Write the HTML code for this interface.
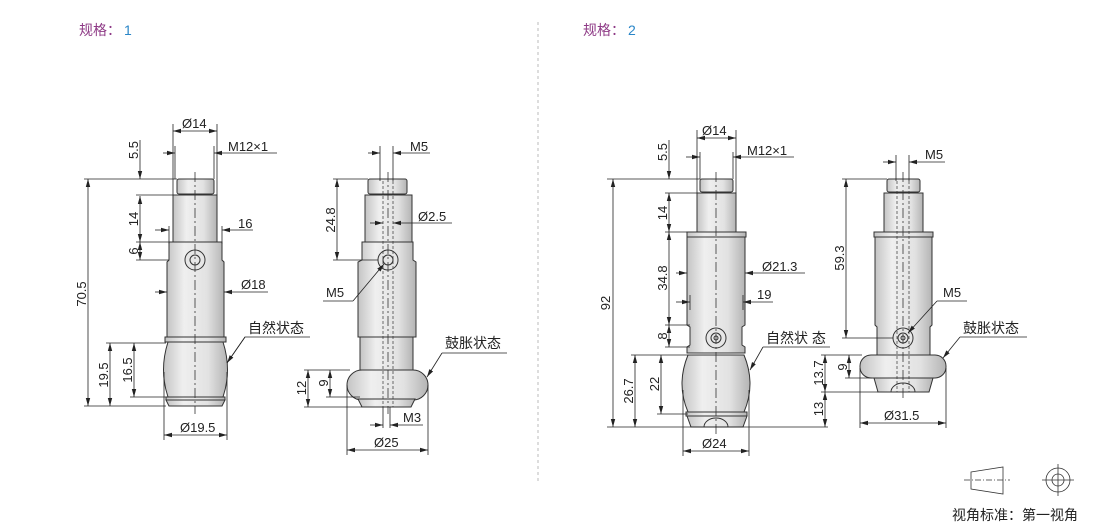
<!DOCTYPE html>
<html><head><meta charset="utf-8"><style>
html,body{margin:0;padding:0;background:#fff;width:1110px;height:525px;overflow:hidden}
svg{display:block}
text{font-family:"Liberation Sans","Noto Sans CJK SC",sans-serif;fill:#222}
</style></head><body>
<svg width="1110" height="525" viewBox="0 0 1110 525" xmlns="http://www.w3.org/2000/svg">
<defs>
<marker id="a" markerWidth="8" markerHeight="6" refX="8" refY="3" orient="auto-start-reverse" markerUnits="userSpaceOnUse"><path d="M0,0.8 L8,3 L0,5.2z" fill="#222"/></marker>
<linearGradient id="g" x1="0" x2="1" y1="0" y2="0"><stop offset="0" stop-color="#c4c4c4"/><stop offset="0.3" stop-color="#efefef"/><stop offset="0.7" stop-color="#e2e2e2"/><stop offset="1" stop-color="#b4b4b4"/></linearGradient>
</defs>
<g font-size="14">
<text x="79" y="35" fill="#8e3a86" style="fill:#8e3a86">规格：</text><text x="124" y="35" style="fill:#2a86c8">1</text>
<text x="583" y="35" style="fill:#8e3a86">规格：</text><text x="628" y="35" style="fill:#2a86c8">2</text>
</g>
<line x1="538" y1="22" x2="538" y2="482" stroke="#bbb" stroke-dasharray="3,3"/>

<!-- ===== Drawing 1 left ===== -->
<g stroke="#333" stroke-width="1" fill="url(#g)">
<rect x="177" y="179" width="37" height="15" rx="2"/>
<rect x="173" y="195" width="44" height="47"/>
<path d="M169,242 H222 V260 L224,262 V337 H167 V262 L169,260Z"/>
<rect x="165" y="337" width="61" height="5"/>
<path d="M168,342 H223 Q232,370 223,397 H168 Q159,370 168,342Z"/>
<rect x="166" y="397" width="59" height="3"/>
<path d="M166,400 H225 L222,406 H169Z"/>
<circle cx="195" cy="260" r="10" fill="#e6e6e6"/>
<circle cx="195" cy="260" r="5" fill="#e6e6e6"/>
</g>
<line x1="195" y1="172" x2="195" y2="414" stroke="#333" stroke-width="0.8" stroke-dasharray="10,3,2,3"/>
<!-- drawing 1 right -->
<g stroke="#333" stroke-width="1" fill="url(#g)">
<rect x="368" y="179" width="39" height="15" rx="2"/>
<rect x="365" y="195" width="47" height="47"/>
<path d="M362,242 H413 V260 L416,262 V337 H358 V262 L362,260Z"/>
<rect x="360" y="337" width="53" height="33"/>
<rect x="347" y="370" width="81" height="30" rx="15"/>
<path d="M358,399 H415 L411,407 H362Z"/>
<circle cx="388" cy="260" r="10" fill="#e6e6e6"/>
<circle cx="388" cy="260" r="5" fill="#e6e6e6"/>
</g>
<g stroke="#333" stroke-width="0.7" stroke-dasharray="3,2" fill="none">
<line x1="383" y1="181" x2="383" y2="407"/><line x1="393" y1="181" x2="393" y2="407"/>
</g>
<line x1="388" y1="172" x2="388" y2="414" stroke="#333" stroke-width="0.8" stroke-dasharray="10,3,2,3"/>

<!-- ===== Drawing 2 left ===== -->
<g stroke="#333" stroke-width="1" fill="url(#g)">
<rect x="700" y="179" width="33" height="13" rx="2"/>
<rect x="697" y="193" width="39" height="39"/>
<rect x="687" y="232" width="59" height="5"/>
<path d="M687,237 H745 V325 L742,327 V345 L745,347 V353 H687 V347 L690,345 V327 L687,325Z"/>
<path d="M688,355 H744 Q756,384 744,412 H688 Q676,384 688,355Z"/>
<rect x="686" y="412" width="61" height="4"/>
<path d="M687,416 H747 L743,427 H691Z"/>
<path d="M704,427 A12,9 0 0 1 728,427" fill="none"/>
<circle cx="716" cy="338" r="10" fill="#e6e6e6"/>
<circle cx="716" cy="338" r="5" fill="#e6e6e6"/>
<circle cx="716" cy="338" r="2" fill="#e6e6e6"/>
</g>
<line x1="716" y1="172" x2="716" y2="434" stroke="#333" stroke-width="0.8" stroke-dasharray="10,3,2,3"/>
<!-- drawing 2 right -->
<g stroke="#333" stroke-width="1" fill="url(#g)">
<rect x="887" y="179" width="33" height="13" rx="2"/>
<rect x="884" y="193" width="39" height="39"/>
<rect x="874" y="232" width="59" height="5"/>
<path d="M875,237 H932 V325 L930,327 V355 H877 V327 L875,325Z"/>
<rect x="860" y="355" width="86" height="23" rx="11"/>
<path d="M874,378 H933 L929,392 H878Z"/>
<path d="M891,392 A12,9 0 0 1 915,392" fill="none"/>
<circle cx="903" cy="338" r="10" fill="#e6e6e6"/>
<circle cx="903" cy="338" r="5" fill="#e6e6e6"/>
<circle cx="903" cy="338" r="2" fill="#e6e6e6"/>
</g>
<g stroke="#333" stroke-width="0.7" stroke-dasharray="3,2" fill="none">
<line x1="897" y1="181" x2="897" y2="392"/><line x1="909" y1="181" x2="909" y2="392"/>
</g>
<line x1="903" y1="172" x2="903" y2="398" stroke="#333" stroke-width="0.8" stroke-dasharray="10,3,2,3"/>

<!-- ===== dimensions ===== -->
<g stroke="#222" stroke-width="0.8" fill="none">
<!-- D1 left -->
<line x1="173" y1="124" x2="173" y2="195"/><line x1="217" y1="124" x2="217" y2="195"/>
<line x1="173" y1="131" x2="217" y2="131" marker-start="url(#a)" marker-end="url(#a)"/>
<line x1="175" y1="146" x2="175" y2="179"/><line x1="214" y1="146" x2="214" y2="179"/>
<line x1="163" y1="153" x2="175" y2="153" marker-end="url(#a)"/><line x1="277" y1="153" x2="214" y2="153" marker-end="url(#a)"/>
<line x1="84" y1="179" x2="177" y2="179"/><line x1="136" y1="195" x2="173" y2="195"/>
<line x1="136" y1="242" x2="169" y2="242"/><line x1="136" y1="260" x2="169" y2="260"/>
<line x1="140" y1="140" x2="140" y2="179" marker-end="url(#a)"/>
<line x1="140" y1="196" x2="140" y2="242" marker-start="url(#a)" marker-end="url(#a)"/>
<line x1="140" y1="242" x2="140" y2="260" marker-start="url(#a)" marker-end="url(#a)"/>
<line x1="88" y1="179" x2="88" y2="406" marker-start="url(#a)" marker-end="url(#a)"/>
<line x1="84" y1="406" x2="166" y2="406"/>
<line x1="169" y1="226" x2="169" y2="244"/><line x1="222" y1="226" x2="222" y2="244"/>
<line x1="155" y1="230" x2="169" y2="230" marker-end="url(#a)"/><line x1="253" y1="230" x2="222" y2="230" marker-end="url(#a)"/>
<line x1="155" y1="292" x2="167" y2="292" marker-end="url(#a)"/><line x1="268" y1="292" x2="224" y2="292" marker-end="url(#a)"/>
<line x1="106" y1="343" x2="166" y2="343"/><line x1="130" y1="397" x2="166" y2="397"/>
<line x1="110" y1="343" x2="110" y2="406" marker-start="url(#a)" marker-end="url(#a)"/>
<line x1="134" y1="343" x2="134" y2="397" marker-start="url(#a)" marker-end="url(#a)"/>
<line x1="164" y1="372" x2="164" y2="440"/><line x1="227" y1="372" x2="227" y2="440"/>
<line x1="164" y1="435" x2="227" y2="435" marker-start="url(#a)" marker-end="url(#a)"/>
<polyline points="310,337 245,337 227,363"/><line x1="245" y1="337" x2="227" y2="363" marker-end="url(#a)"/>
<!-- D1 right -->
<line x1="380" y1="146" x2="380" y2="181"/><line x1="393" y1="146" x2="393" y2="181"/>
<line x1="368" y1="153" x2="380" y2="153" marker-end="url(#a)"/><line x1="430" y1="153" x2="393" y2="153" marker-end="url(#a)"/>
<line x1="333" y1="179" x2="368" y2="179"/><line x1="333" y1="260" x2="378" y2="260"/>
<line x1="337" y1="179" x2="337" y2="260" marker-start="url(#a)" marker-end="url(#a)"/>
<line x1="370" y1="223" x2="383" y2="223" marker-end="url(#a)"/><line x1="452" y1="223" x2="393" y2="223" marker-end="url(#a)"/>
<polyline points="323,301 353,301"/><line x1="353" y1="301" x2="384" y2="264" marker-end="url(#a)"/>
<line x1="442" y1="353" x2="507" y2="353"/><line x1="442" y1="353" x2="427" y2="377" marker-end="url(#a)"/>
<line x1="304" y1="370" x2="350" y2="370"/><line x1="326" y1="397" x2="360" y2="397"/><line x1="304" y1="407" x2="362" y2="407"/>
<line x1="308" y1="370" x2="308" y2="407" marker-start="url(#a)" marker-end="url(#a)"/>
<line x1="330" y1="370" x2="330" y2="397" marker-start="url(#a)" marker-end="url(#a)"/>
<line x1="383" y1="407" x2="383" y2="428"/><line x1="390" y1="407" x2="390" y2="428"/>
<line x1="370" y1="425" x2="383" y2="425" marker-end="url(#a)"/><line x1="423" y1="425" x2="390" y2="425" marker-end="url(#a)"/>
<line x1="347" y1="385" x2="347" y2="455"/><line x1="428" y1="385" x2="428" y2="455"/>
<line x1="347" y1="450" x2="428" y2="450" marker-start="url(#a)" marker-end="url(#a)"/>

<!-- D2 left -->
<line x1="697" y1="130" x2="697" y2="193"/><line x1="736" y1="130" x2="736" y2="193"/>
<line x1="697" y1="138" x2="736" y2="138" marker-start="url(#a)" marker-end="url(#a)"/>
<line x1="700" y1="152" x2="700" y2="179"/><line x1="733" y1="152" x2="733" y2="179"/>
<line x1="686" y1="157" x2="700" y2="157" marker-end="url(#a)"/><line x1="794" y1="157" x2="733" y2="157" marker-end="url(#a)"/>
<line x1="607" y1="179" x2="700" y2="179"/><line x1="665" y1="193" x2="697" y2="193"/>
<line x1="665" y1="232" x2="687" y2="232"/><line x1="665" y1="325" x2="690" y2="325"/><line x1="665" y1="347" x2="690" y2="347"/>
<line x1="669" y1="140" x2="669" y2="179" marker-end="url(#a)"/>
<line x1="669" y1="193" x2="669" y2="232" marker-start="url(#a)" marker-end="url(#a)"/>
<line x1="669" y1="232" x2="669" y2="325" marker-start="url(#a)" marker-end="url(#a)"/>
<line x1="669" y1="325" x2="669" y2="347" marker-start="url(#a)" marker-end="url(#a)"/>
<line x1="613" y1="179" x2="613" y2="427" marker-start="url(#a)" marker-end="url(#a)"/>
<line x1="607" y1="427" x2="828" y2="427"/>
<line x1="676" y1="273" x2="687" y2="273" marker-end="url(#a)"/><line x1="805" y1="273" x2="745" y2="273" marker-end="url(#a)"/>
<line x1="690" y1="295" x2="690" y2="310"/><line x1="743" y1="295" x2="743" y2="310"/>
<line x1="676" y1="302" x2="690" y2="302" marker-end="url(#a)"/><line x1="773" y1="302" x2="743" y2="302" marker-end="url(#a)"/>
<line x1="631" y1="355" x2="688" y2="355"/><line x1="657" y1="414" x2="688" y2="414"/>
<line x1="635" y1="355" x2="635" y2="427" marker-start="url(#a)" marker-end="url(#a)"/>
<line x1="661" y1="355" x2="661" y2="414" marker-start="url(#a)" marker-end="url(#a)"/>
<line x1="683" y1="390" x2="683" y2="456"/><line x1="749" y1="390" x2="749" y2="456"/>
<line x1="683" y1="451" x2="749" y2="451" marker-start="url(#a)" marker-end="url(#a)"/>
<line x1="763" y1="347" x2="830" y2="347"/><line x1="763" y1="347" x2="750" y2="370" marker-end="url(#a)"/>
<!-- D2 right -->
<line x1="896" y1="155" x2="896" y2="181"/><line x1="909" y1="155" x2="909" y2="181"/>
<line x1="883" y1="162" x2="896" y2="162" marker-end="url(#a)"/><line x1="945" y1="162" x2="909" y2="162" marker-end="url(#a)"/>
<line x1="842" y1="179" x2="887" y2="179"/><line x1="842" y1="338" x2="893" y2="338"/>
<line x1="846" y1="179" x2="846" y2="338" marker-start="url(#a)" marker-end="url(#a)"/>
<line x1="937" y1="301" x2="967" y2="301"/><line x1="937" y1="301" x2="908" y2="333" marker-end="url(#a)"/>
<line x1="960" y1="337" x2="1027" y2="337"/><line x1="960" y1="337" x2="943" y2="358" marker-end="url(#a)"/>
<line x1="821" y1="355" x2="862" y2="355"/><line x1="845" y1="378" x2="872" y2="378"/><line x1="821" y1="392" x2="878" y2="392"/>
<line x1="825" y1="355" x2="825" y2="392" marker-start="url(#a)" marker-end="url(#a)"/>
<line x1="849" y1="355" x2="849" y2="378" marker-start="url(#a)" marker-end="url(#a)"/>
<line x1="825" y1="392" x2="825" y2="427" marker-start="url(#a)" marker-end="url(#a)"/>
<line x1="860" y1="368" x2="860" y2="428"/><line x1="946" y1="368" x2="946" y2="428"/>
<line x1="860" y1="423" x2="946" y2="423" marker-start="url(#a)" marker-end="url(#a)"/>
</g>

<!-- labels -->
<g font-size="13">
<text x="182" y="128">Ø14</text>
<text x="228" y="151">M12×1</text>
<text x="238" y="228">16</text>
<text x="241" y="289">Ø18</text>
<text x="248" y="333" font-size="14">自然状态</text>
<text x="180" y="432">Ø19.5</text>
<text x="138" y="150" transform="rotate(-90 138 150)" text-anchor="middle">5.5</text>
<text x="138" y="219" transform="rotate(-90 138 219)" text-anchor="middle">14</text>
<text x="138" y="251" transform="rotate(-90 138 251)" text-anchor="middle">6</text>
<text x="86" y="294" transform="rotate(-90 86 294)" text-anchor="middle">70.5</text>
<text x="108" y="375" transform="rotate(-90 108 375)" text-anchor="middle">19.5</text>
<text x="132" y="370" transform="rotate(-90 132 370)" text-anchor="middle">16.5</text>

<text x="410" y="151">M5</text>
<text x="418" y="221">Ø2.5</text>
<text x="326" y="297">M5</text>
<text x="445" y="348" font-size="14">鼓胀状态</text>
<text x="403" y="422">M3</text>
<text x="374" y="447">Ø25</text>
<text x="335" y="220" transform="rotate(-90 335 220)" text-anchor="middle">24.8</text>
<text x="306" y="388" transform="rotate(-90 306 388)" text-anchor="middle">12</text>
<text x="328" y="383" transform="rotate(-90 328 383)" text-anchor="middle">9</text>

<text x="702" y="135">Ø14</text>
<text x="747" y="155">M12×1</text>
<text x="762" y="271">Ø21.3</text>
<text x="757" y="299">19</text>
<text x="766" y="343" font-size="14">自然状 态</text>
<text x="702" y="448">Ø24</text>
<text x="667" y="152" transform="rotate(-90 667 152)" text-anchor="middle">5.5</text>
<text x="667" y="213" transform="rotate(-90 667 213)" text-anchor="middle">14</text>
<text x="667" y="278" transform="rotate(-90 667 278)" text-anchor="middle">34.8</text>
<text x="667" y="336" transform="rotate(-90 667 336)" text-anchor="middle">8</text>
<text x="610" y="303" transform="rotate(-90 610 303)" text-anchor="middle">92</text>
<text x="633" y="391" transform="rotate(-90 633 391)" text-anchor="middle">26.7</text>
<text x="659" y="384" transform="rotate(-90 659 384)" text-anchor="middle">22</text>

<text x="925" y="159">M5</text>
<text x="943" y="297">M5</text>
<text x="963" y="333" font-size="14">鼓胀状态</text>
<text x="884" y="420">Ø31.5</text>
<text x="844" y="258" transform="rotate(-90 844 258)" text-anchor="middle">59.3</text>
<text x="823" y="373" transform="rotate(-90 823 373)" text-anchor="middle">13.7</text>
<text x="847" y="367" transform="rotate(-90 847 367)" text-anchor="middle">9</text>
<text x="823" y="409" transform="rotate(-90 823 409)" text-anchor="middle">13</text>
</g>

<!-- legend -->
<g stroke="#333" stroke-width="0.8" fill="none">
<path d="M971,472 L1003,467 V494 L971,489Z"/>
<line x1="964" y1="480" x2="1010" y2="480" stroke-dasharray="6,2,1,2"/>
<circle cx="1058" cy="480" r="12"/><circle cx="1058" cy="480" r="6"/>
<line x1="1042" y1="480" x2="1074" y2="480"/><line x1="1058" y1="464" x2="1058" y2="496"/>
</g>
<text x="952" y="520" font-size="14">视角标准：第一视角</text>
</svg>
</body></html>
